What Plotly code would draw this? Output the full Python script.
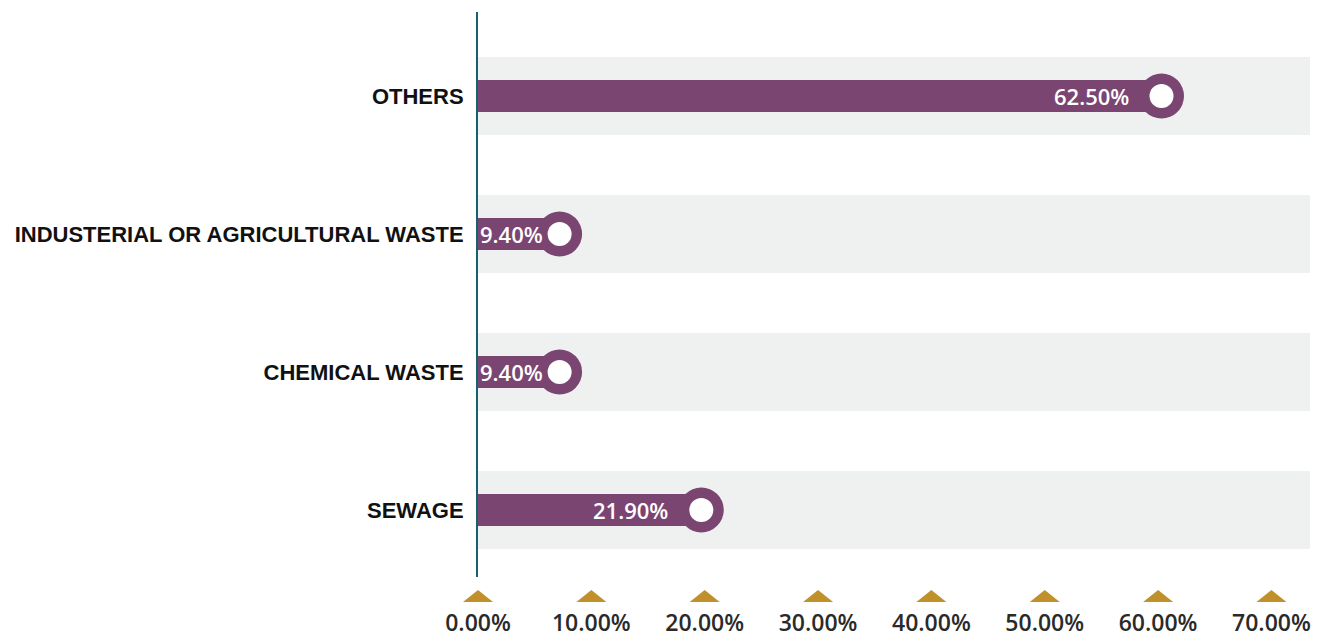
import plotly.graph_objects as go

# Waste categories, bottom to top on the chart
categories = ["SEWAGE", "CHEMICAL WASTE", "INDUSTERIAL OR AGRICULTURAL WASTE", "OTHERS"]
shares = [21.9, 9.4, 9.4, 62.5]

tick_values = [0, 10, 20, 30, 40, 50, 60, 70]
tick_labels = ["0.00%", "10.00%", "20.00%", "30.00%", "40.00%", "50.00%", "60.00%", "70.00%"]

PURPLE = "#7b4572"
BAND = "#eff0f0"
GOLD = "#c0912b"
AXIS = "#17616e"
LABEL = "#111111"
TICK = "#2a2a2a"

X_MAX = 73.4      # right end of the x range
CAP = 2.2         # knob radius in axis units: knob's outer edge sits at the value
ROW_BAND = 0.565  # height of the grey row band
BAR_W = 0.232     # height of the purple bar

rows = list(range(len(categories)))
ends = [v - CAP for v in shares]

fig = go.Figure()

# grey band behind each row
fig.add_trace(go.Bar(
    y=rows, x=[X_MAX] * len(rows), orientation="h", width=ROW_BAND,
    marker=dict(color=BAND, line=dict(width=0)), hoverinfo="skip", showlegend=False,
))

# purple bar running to the knob centre
fig.add_trace(go.Bar(
    y=rows, x=ends, orientation="h", width=BAR_W,
    marker=dict(color=PURPLE, line=dict(width=0)),
    customdata=shares, hovertemplate="%{customdata:.2f}%<extra></extra>",
    showlegend=False,
))

# knob: purple ring with white centre
fig.add_trace(go.Scatter(
    y=rows, x=ends, mode="markers",
    marker=dict(symbol="circle", size=45, color=PURPLE, line=dict(width=0)),
    hoverinfo="skip", showlegend=False, cliponaxis=False,
))
fig.add_trace(go.Scatter(
    y=rows, x=ends, mode="markers",
    marker=dict(symbol="circle", size=24, color="white", line=dict(width=0)),
    hoverinfo="skip", showlegend=False, cliponaxis=False,
))

# value labels inside the bars, pushed to the axis when the bar is short
for r, v, e in zip(rows, shares, ends):
    short = v < 12
    fig.add_annotation(
        x=0 if short else e, y=r, xref="x", yref="y",
        text=f"{v:.2f}%", showarrow=False,
        xanchor="left" if short else "right",
        xshift=0 if short else -31,
        font=dict(family="Open Sans", size=22, color="white", weight=600),
    )

# gold triangle markers under each x tick
for t in tick_values:
    fig.add_shape(
        type="path", xref="paper", yref="paper",
        xsizemode="pixel", ysizemode="pixel",
        xanchor=t / X_MAX, yanchor=0,
        path="M-15,-25 L15,-25 L0,-13 Z",
        fillcolor=GOLD, line=dict(width=0),
    )

fig.update_layout(
    width=1326, height=639,
    margin=dict(l=478, r=16, t=12, b=62),
    paper_bgcolor="white", plot_bgcolor="white",
    barmode="overlay", bargap=0,
    xaxis=dict(
        range=[0, X_MAX], tickvals=tick_values, ticktext=tick_labels,
        showgrid=False, zeroline=False, showline=False, ticks="",
        ticklabelstandoff=30, automargin=False,
        tickfont=dict(family="Open Sans", size=23, color=TICK, weight=600),
        fixedrange=True,
    ),
    yaxis=dict(
        range=[-0.486, 3.609], tickvals=rows, ticktext=categories,
        showgrid=False, zeroline=False, showline=True,
        linecolor=AXIS, linewidth=2, ticks="",
        ticklabelstandoff=8, automargin=False,
        tickfont=dict(family="Liberation Sans", size=22, color=LABEL, weight="bold"),
        fixedrange=True,
    ),
)

fig.write_html("out.html")
